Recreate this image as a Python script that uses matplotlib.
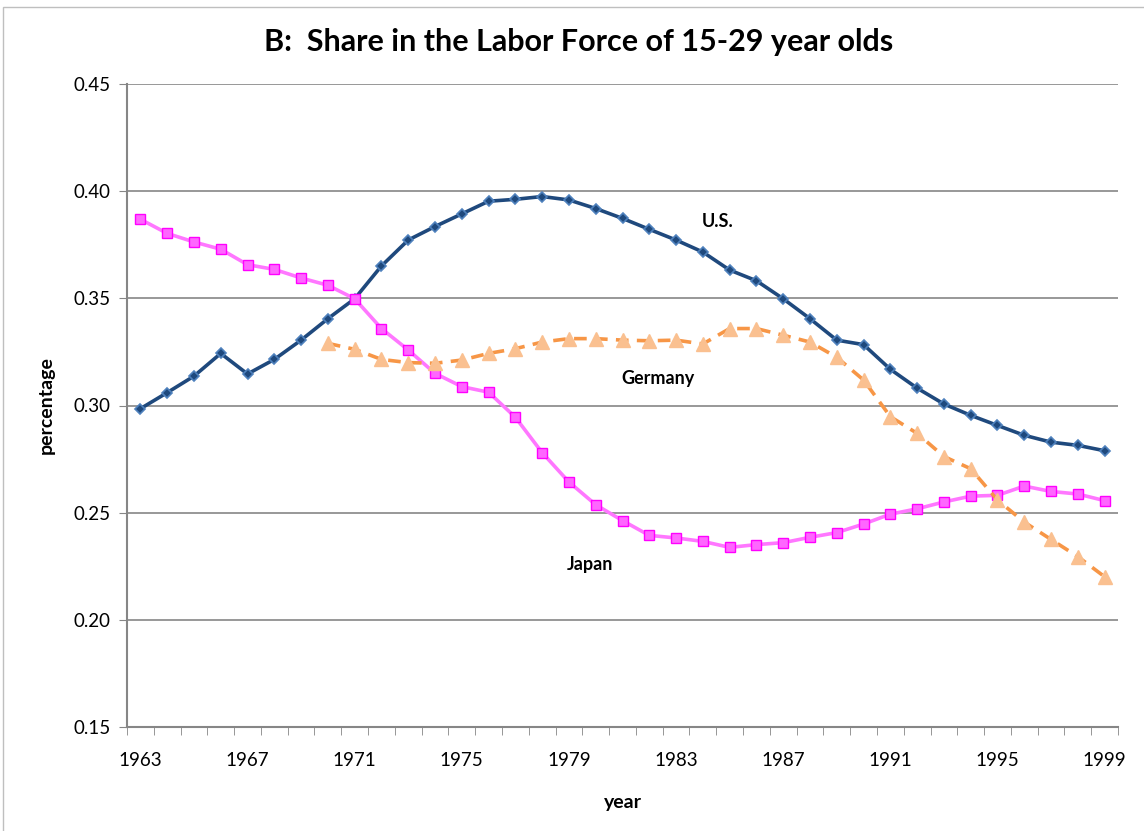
import matplotlib.pyplot as plt
import matplotlib.patches as mpatches
import numpy as np

plt.rcParams['font.family'] = ['Lato', 'DejaVu Sans']

years = list(range(1963, 2000))

us = [0.2985, 0.3060, 0.3137, 0.3243, 0.3147, 0.3215, 0.3305, 0.3405, 0.3498,
      0.3651, 0.3772, 0.3835, 0.3894, 0.3953, 0.3962, 0.3975, 0.3959, 0.3919,
      0.3873, 0.3822, 0.3772, 0.3716, 0.3632, 0.3582, 0.3498, 0.3405, 0.3305,
      0.3284, 0.3169, 0.3081, 0.3007, 0.2954, 0.2907, 0.2861, 0.2829, 0.2814,
      0.2789]

japan = [0.3869, 0.3803, 0.3763, 0.3729, 0.3657, 0.3635, 0.3595, 0.3561, 0.3498,
         0.3359, 0.3259, 0.3150, 0.3088, 0.3062, 0.2945, 0.2780, 0.2643, 0.2537,
         0.2463, 0.2394, 0.2382, 0.2366, 0.2338, 0.2351, 0.2360, 0.2385, 0.2407,
         0.2447, 0.2493, 0.2518, 0.2550, 0.2577, 0.2581, 0.2624, 0.2599, 0.2587,
         0.2556]

germany_years = list(range(1970, 2000))
germany = [0.3290, 0.3262, 0.3215, 0.3200, 0.3197, 0.3212, 0.3243, 0.3265, 0.3296,
           0.3312, 0.3312, 0.3305, 0.3302, 0.3305, 0.3287, 0.3359, 0.3359, 0.3328,
           0.3296, 0.3225, 0.3119, 0.2948, 0.2870, 0.2762, 0.2705, 0.2559, 0.2456,
           0.2375, 0.2295, 0.2201]

fig = plt.figure(figsize=(11.44, 8.31), dpi=100)
ax = fig.add_axes([127 / 1144, 1 - 727 / 831, (1118 - 127) / 1144, (727 - 84) / 831])

# chart border like excel
fig.patches.append(mpatches.Rectangle((3 / 1144, -0.01), 1.02, 1 - 7 / 831 + 0.01,
                                      transform=fig.transFigure, fill=False,
                                      edgecolor='#bfbfbf', linewidth=1))

ax.plot(years, us, color='#1F497D', linewidth=2.6, marker='D', markersize=5,
        markerfacecolor='#1F497D', markeredgecolor='#4F81BD', markeredgewidth=1.2, zorder=3)
ax.plot(years, japan, color='#FF77FF', linewidth=2.6, marker='s', markersize=7.5,
        markerfacecolor='#FF66FF', markeredgecolor='#FF00FF', markeredgewidth=1.0, zorder=4)
ax.plot(germany_years, germany, color='#F79646', linewidth=2.6, dashes=(3.5, 2.3),
        marker='^', markersize=10, markerfacecolor='#FAC090', markeredgecolor='#FAC090', zorder=5)

ax.text(1984.57, 0.386, 'U.S.', fontsize=13, fontweight='bold', ha='center', va='center')
ax.text(1982.33, 0.3128, 'Germany', fontsize=13, fontweight='bold', ha='center', va='center')
ax.text(1979.8, 0.2256, 'Japan', fontsize=13, fontweight='bold', ha='center', va='center')

ax.set_xlim(1962.5, 1999.5)
ax.set_ylim(0.15, 0.45)
ax.set_yticks(np.arange(0.15, 0.451, 0.05))
ax.set_yticklabels(['%.2f' % v for v in np.arange(0.15, 0.451, 0.05)])
ax.set_xticks(years[::4])
ax.set_xticks(np.arange(1962.5, 2000, 1), minor=True)
ax.tick_params(axis='x', which='major', length=0, pad=18, labelsize=13.5)
ax.tick_params(axis='x', which='minor', length=6, color='#868686', direction='out')
ax.tick_params(axis='y', length=6, color='#868686', labelsize=13.5, pad=6)

ax.grid(axis='y', color='#868686', linewidth=1.2)
ax.set_axisbelow(True)
for s in ['top', 'right']:
    ax.spines[s].set_visible(False)
ax.spines['left'].set_color('#868686')
ax.spines['bottom'].set_color('#868686')
ax.spines['left'].set_linewidth(1.5)
ax.spines['bottom'].set_linewidth(1.5)

ax.set_xlabel('year', fontsize=14, fontweight='bold', labelpad=18)
ax.set_ylabel('percentage', fontsize=14, fontweight='bold', labelpad=13)
fig.text(0.5055, 1 - 42 / 831, 'B:  Share in the Labor Force of 15-29 year olds',
         fontsize=22, fontweight='bold', ha='center', va='center')

plt.savefig('out.png', dpi=100)
